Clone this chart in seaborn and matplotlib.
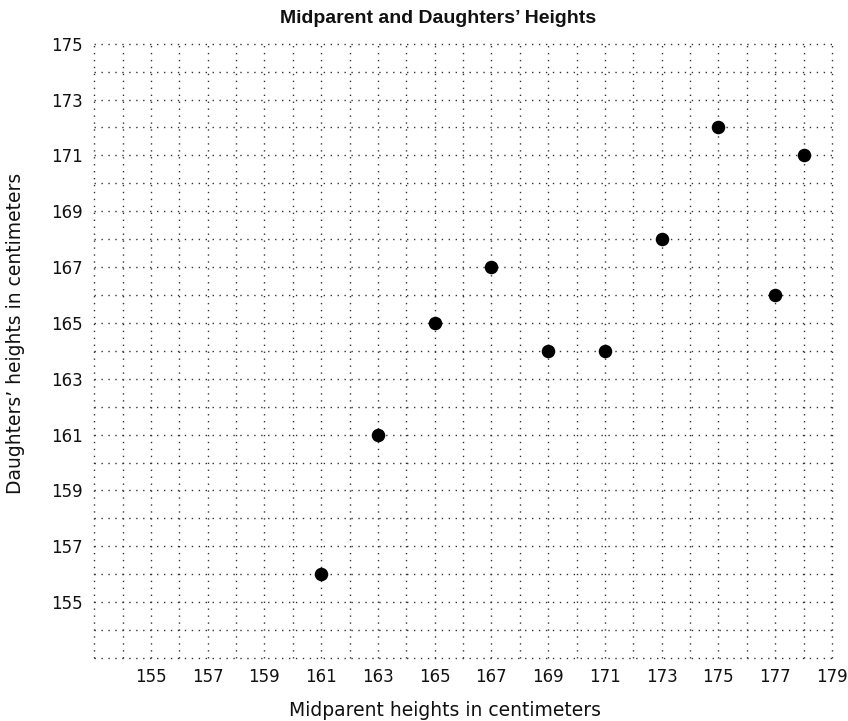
import matplotlib
matplotlib.use("Agg")
import matplotlib.pyplot as plt
import seaborn as sns
import pandas as pd
import numpy as np

# Data
midparent = [161, 163, 165, 167, 169, 171, 173, 175, 177, 178]
daughter = [156, 161, 165, 167, 164, 164, 168, 172, 166, 171]
x_ticks = [155, 157, 159, 161, 163, 165, 167, 169, 171, 173, 175, 177, 179]
y_ticks = [155, 157, 159, 161, 163, 165, 167, 169, 171, 173, 175]

title = "Midparent and Daughters\u2019 Heights"
xlabel = "Midparent heights in centimeters"
ylabel = "Daughters\u2019 heights in centimeters"

sns.set_style("white")
plt.rcParams['font.family'] = ['DejaVu Sans']

df = pd.DataFrame({"x": midparent, "y": daughter})

fig = plt.figure(figsize=(8.48, 7.21), dpi=100)
ax = fig.add_axes([0.111, 0.0874, 0.870, 0.852])

sns.scatterplot(data=df, x="x", y="y", ax=ax, color="black", s=95,
                edgecolor="black", linewidth=0, zorder=5)

ax.set_xlim(153, 179)
ax.set_ylim(153, 175)

xg = np.arange(153, 180)
yg = np.arange(153, 176)
ax.set_xticks(xg)
ax.set_xticklabels([str(v) if v in x_ticks else "" for v in xg])
ax.set_yticks(yg)
ax.set_yticklabels([str(v) if v in y_ticks else "" for v in yg])
ax.tick_params(which="both", length=0)
ax.tick_params(axis="x", labelsize=12, pad=7, colors="#111111")
ax.tick_params(axis="y", labelsize=12, pad=8, colors="#111111")

for sp in ax.spines.values():
    sp.set_visible(False)

ax.grid(which="major", color="#333333", linestyle=(0, (1, 4)), linewidth=1.0)
for gl in ax.get_xgridlines() + ax.get_ygridlines():
    gl.set_clip_on(False)
ax.set_axisbelow(True)

ax.set_title(title, fontsize=14, fontweight="bold", pad=15, x=0.466,
             family=["Liberation Sans", "DejaVu Sans"], color="#111111")
ax.set_xlabel(xlabel, fontsize=13.5, color="#111111")
ax.set_ylabel(ylabel, fontsize=13.5, color="#111111")
ax.xaxis.set_label_coords(0.476, -0.07, transform=ax.transAxes)
ax.xaxis.label.set_va("top")
ax.yaxis.set_label_coords(-0.0935, 0.529)

fig.savefig("out.png", dpi=100)
